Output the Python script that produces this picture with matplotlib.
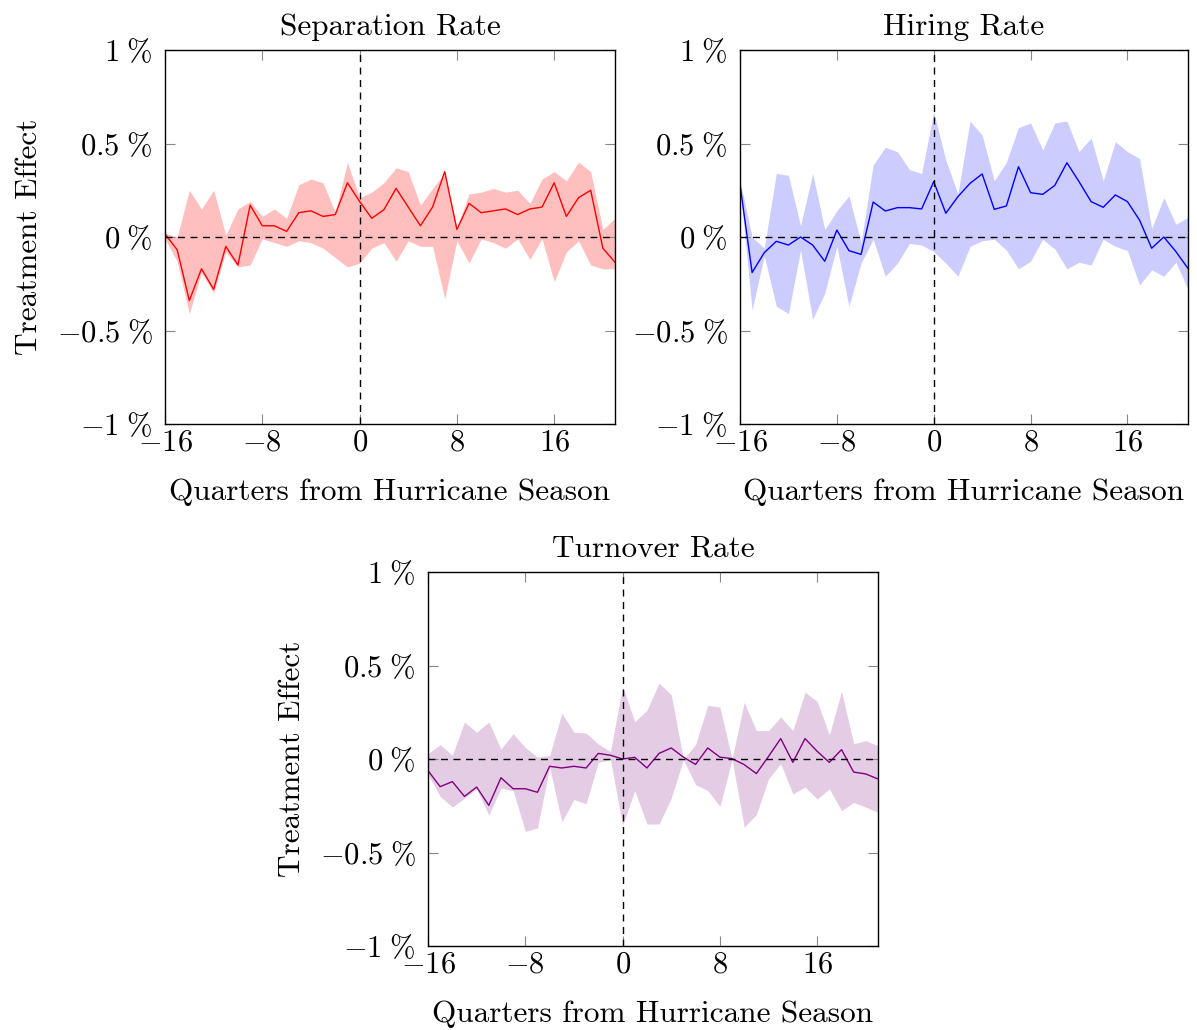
import matplotlib.pyplot as plt

plt.rcParams['mathtext.fontset'] = 'cm'
plt.rcParams['font.family'] = ['cmr10', 'DejaVu Serif']
plt.rcParams['axes.unicode_minus'] = False

quarters = list(range(-16, 22))

# Separation rate (percent)
sep_est = [0.016, -0.068, -0.34, -0.17, -0.28, -0.05, -0.15, 0.17, 0.06, 0.06,
           0.03, 0.13, 0.14, 0.11, 0.12, 0.29, 0.19, 0.10, 0.146, 0.26,
           0.16, 0.06, 0.16, 0.35, 0.04, 0.18, 0.13, 0.14, 0.15, 0.12,
           0.15, 0.16, 0.29, 0.11, 0.21, 0.25, -0.06, -0.135]
sep_hi = [0.02, 0.0, 0.25, 0.15, 0.25, 0.01, 0.15, 0.19, 0.11, 0.15,
          0.10, 0.28, 0.31, 0.29, 0.13, 0.40, 0.21, 0.24, 0.29, 0.37,
          0.35, 0.17, 0.26, 0.34, 0.05, 0.23, 0.24, 0.26, 0.24, 0.25,
          0.18, 0.31, 0.35, 0.30, 0.40, 0.35, 0.04, 0.10]
sep_lo = [-0.01, -0.13, -0.41, -0.19, -0.30, -0.08, -0.16, -0.15, -0.01, -0.03,
          -0.05, -0.02, -0.03, -0.06, -0.11, -0.16, -0.14, -0.06, -0.03, -0.13,
          -0.02, -0.05, -0.05, -0.33, -0.02, -0.14, -0.01, -0.03, -0.06, -0.01,
          -0.12, -0.01, -0.24, -0.08, -0.02, -0.15, -0.17, -0.17]

# Hiring rate (percent)
hir_est = [0.28, -0.19, -0.084, -0.023, -0.043, 0.0, -0.043, -0.13, 0.037, -0.073,
           -0.093, 0.187, 0.139, 0.157, 0.157, 0.15, 0.296, 0.127, 0.216, 0.287,
           0.337, 0.148, 0.166, 0.376, 0.237, 0.228, 0.276, 0.397, 0.296, 0.189,
           0.159, 0.225, 0.189, 0.09, -0.06, 0.0, -0.078, -0.168]
hir_hi = [0.30, 0.0, -0.06, 0.34, 0.33, 0.06, 0.34, 0.04, 0.14, 0.22,
          -0.03, 0.385, 0.48, 0.456, 0.36, 0.34, 0.67, 0.41, 0.23, 0.62,
          0.545, 0.30, 0.40, 0.585, 0.61, 0.465, 0.61, 0.62, 0.456, 0.53,
          0.30, 0.51, 0.456, 0.42, 0.046, 0.21, 0.068, 0.105]
hir_lo = [0.27, -0.39, -0.10, -0.37, -0.41, -0.07, -0.44, -0.30, -0.05, -0.37,
          -0.14, -0.012, -0.21, -0.14, -0.034, -0.043, -0.078, -0.14, -0.21, -0.05,
          -0.02, -0.012, -0.07, -0.17, -0.13, -0.012, -0.064, -0.17, -0.135, -0.15,
          -0.012, -0.05, -0.073, -0.257, -0.176, -0.21, -0.135, -0.28]

# Turnover rate (percent)
tur_est = [-0.062, -0.148, -0.121, -0.20, -0.15, -0.248, -0.10, -0.159, -0.159, -0.178,
           -0.039, -0.048, -0.039, -0.048, 0.03, 0.02, 0.0, 0.009, -0.048, 0.03,
           0.059, 0.01, -0.029, 0.059, 0.01, 0.002, -0.03, -0.078, 0.014, 0.109,
           -0.018, 0.109, 0.041, -0.018, 0.05, -0.07, -0.08, -0.107]
tur_hi = [0.03, 0.077, 0.02, 0.198, 0.143, 0.198, 0.053, 0.135, 0.062, 0.01,
          0.018, 0.246, 0.143, 0.139, 0.08, 0.04, 0.389, 0.20, 0.26, 0.406,
          0.344, 0.0, 0.077, 0.287, 0.278, 0.0, 0.303, 0.152, 0.152, 0.225,
          0.152, 0.357, 0.308, 0.13, 0.362, 0.082, 0.098, 0.071]
tur_lo = [-0.084, -0.20, -0.257, -0.21, -0.16, -0.30, -0.155, -0.17, -0.387, -0.369,
          -0.043, -0.337, -0.217, -0.239, -0.018, -0.004, -0.356, -0.169, -0.348, -0.348,
          -0.209, -0.004, -0.137, -0.169, -0.253, -0.004, -0.364, -0.298, -0.105, -0.025,
          -0.187, -0.15, -0.214, -0.16, -0.276, -0.232, -0.258, -0.285]

xticks = [-16, -8, 0, 8, 16]
yticks = [-1, -0.5, 0, 0.5, 1]
ytick_labels = [r'$-1\;\%$', r'$-0.5\;\%$', r'$0\;\%$', r'$0.5\;\%$', r'$1\;\%$']
fs_tick = 22
fs_lab = 22.5

W, H = 1197, 1030
fig = plt.figure(figsize=(W / 100, H / 100), dpi=100)


def panel(box, title, est, lo, hi, color, alpha, ylabel):
    l, t, r, b = box
    ax = fig.add_axes([l / W, 1 - b / H, (r - l) / W, (b - t) / H])
    ax.fill_between(quarters, lo, hi, color=color, alpha=alpha, lw=0)
    ax.plot(quarters, est, color=color, lw=1.0)
    ax.axhline(0, color='black', ls=(0, (5, 4)), lw=1.0)
    ax.axvline(0, color='black', ls=(0, (5, 4)), lw=1.0)
    ax.set_xlim(-16, 21)
    ax.set_ylim(-1, 1)
    ax.set_xticks(xticks)
    ax.set_xticklabels([r'$%d$' % v if v >= 0 else r'$-%d$' % -v for v in xticks])
    ax.set_yticks(yticks)
    ax.set_yticklabels(ytick_labels)
    ax.tick_params(direction='in', top=True, right=True, labelsize=fs_tick,
                   length=7, width=0.8, color='#888888')
    ax.tick_params(axis='x', pad=4)
    ax.tick_params(axis='y', pad=9)
    for s in ax.spines.values():
        s.set_linewidth(1.0)
    ax.set_title(title, fontsize=fs_lab, pad=11)
    ax.set_xlabel('Quarters from Hurricane Season', fontsize=fs_lab, labelpad=15)
    if ylabel:
        ax.set_ylabel('Treatment Effect', fontsize=fs_lab, labelpad=10)
    return ax


panel((165, 50, 615, 424), 'Separation Rate', sep_est, sep_lo, sep_hi, 'red', 0.25, True)
panel((740, 50, 1188, 424), 'Hiring Rate', hir_est, hir_lo, hir_hi, 'blue', 0.2, False)
panel((428, 572, 878, 946), 'Turnover Rate', tur_est, tur_lo, tur_hi, 'purple', 0.2, True)

fig.savefig('out.png', dpi=100)
